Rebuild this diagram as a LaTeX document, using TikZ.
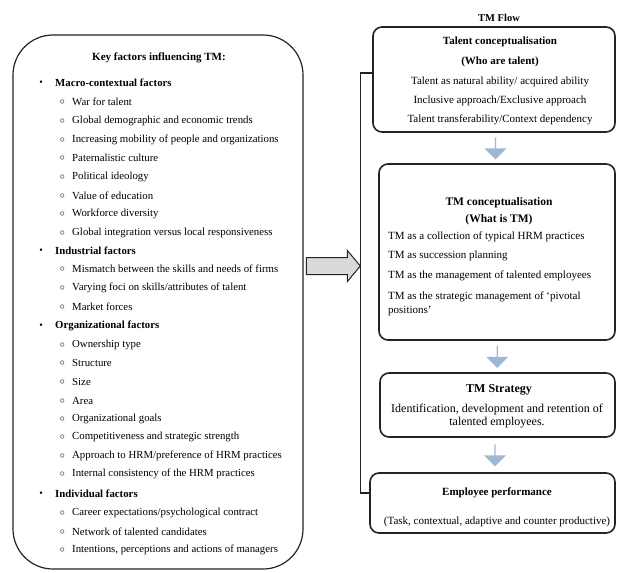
\documentclass[tikz,border=0pt]{standalone}
\usepackage{fontspec}
\setmainfont{Liberation Serif}
\usepackage{tikz}
\usetikzlibrary{shapes, shapes.arrows, positioning, arrows, calc}
\definecolor{arrowblue}{RGB}{158,183,217}
\definecolor{linegray}{RGB}{35,35,35}
\newcommand{\keyfont}{\fontsize{10.8}{12}\selectfont}
\newcommand{\flowfont}[1]{\fontsize{#1}{14}\selectfont}
\tikzset{%
    % Boxes of the two panels
    factorbox/.style = {draw=linegray, line width=1.2pt, rectangle,
    rounded corners=40pt, inner sep=0pt},
    flowbox/.style   = {draw=linegray, line width=1.6pt, rectangle,
    rounded corners=9pt, inner sep=0pt},
    % Block arrows
    bigarrow/.style  = {single arrow, draw=linegray, line width=1pt,
    fill=black!15, minimum height=54pt, text height=16pt, text depth=0pt,
    single arrow head extend=7pt, single arrow tip angle=100, inner sep=0pt},
    downarrow/.style = {single arrow, shape border rotate=270, fill=arrowblue,
    minimum height=22pt, minimum width=22pt, single arrow head extend=4pt,
    inner sep=0pt},
}

\begin{document}
\begin{tikzpicture}[x=1pt, y=-1pt]

	\tikzstyle{heading}=[anchor=west, inner sep=0pt, font=\keyfont\bfseries, label={[inner sep=0pt, xshift=-12pt]left:\textbullet}]
	\tikzstyle{factor}=[anchor=west, inner sep=0pt, font=\keyfont, label={[inner sep=0pt, xshift=-7pt]left:$\circ$}]
	\tikzstyle{flowtxt}=[inner sep=0pt]
	\tikzstyle{flowhead}=[inner sep=0pt, font=\bfseries]
	\tikzstyle{flowlist}=[anchor=west, inner sep=0pt, font=\flowfont{11}]

	\useasboundingbox (0,0) rectangle (617,572);

	% key factors
	\node[factorbox, minimum width=290pt, minimum height=534pt] (keybox) at (158,302) {};
	\node[font=\fontsize{11}{13}\selectfont\bfseries] (keytitle) at (159,58) {Key factors influencing TM:};
	\node[heading] (macro) at (55,83) {Macro-contextual factors};
	\node[factor] (m1) at (72,102) {War for talent};
	\node[factor] (m2) at (72,121) {Global demographic and economic trends};
	\node[factor] (m3) at (72,140) {Increasing mobility of people and organizations};
	\node[factor] (m4) at (72,158) {Paternalistic culture};
	\node[factor] (m5) at (72,177) {Political ideology};
	\node[factor] (m6) at (72,196) {Value of education};
	\node[factor] (m7) at (72,214) {Workforce diversity};
	\node[factor] (m8) at (72,233) {Global integration versus local responsiveness};
	\node[heading] (indus) at (55,251) {Industrial factors};
	\node[factor] (i1) at (72,269) {Mismatch between the skills and needs of firms};
	\node[factor] (i2) at (72,288) {Varying foci on skills/attributes of talent};
	\node[factor] (i3) at (72,307) {Market forces};
	\node[heading] (orga) at (55,326) {Organizational factors};
	\node[factor] (o1) at (72,345) {Ownership type};
	\node[factor] (o2) at (72,363) {Structure};
	\node[factor] (o3) at (72,382) {Size};
	\node[factor] (o4) at (72,401) {Area};
	\node[factor] (o5) at (72,419) {Organizational goals};
	\node[factor] (o6) at (72,437) {Competitiveness and strategic strength};
	\node[factor] (o7) at (72,456) {Approach to HRM/preference of HRM practices};
	\node[factor] (o8) at (72,474) {Internal consistency of the HRM practices};
	\node[heading] (indiv) at (55,494) {Individual factors};
	\node[factor] (p1) at (72,513) {Career expectations/psychological contract};
	\node[factor] (p2) at (72,532) {Network of talented candidates};
	\node[factor] (p3) at (72,550) {Intentions, perceptions and actions of managers};

	% TM flow
	\node[font=\fontsize{10.5}{12}\selectfont\bfseries] (flowtitle) at (499,18) {TM Flow};
	\node[flowbox, minimum width=242pt, minimum height=105pt] (b1) at (494,79.5) {};
	\node[flowhead, font=\flowfont{11}\bfseries] (b1t1) at (500,42) {Talent conceptualisation};
	\node[flowhead, font=\flowfont{11}\bfseries] (b1t2) at (500,62) {(Who are talent)};
	\node[flowtxt, font=\flowfont{11}] (b1t3) at (500,82) {Talent as natural ability/ acquired ability};
	\node[flowtxt, font=\flowfont{11}] (b1t4) at (500,101) {Inclusive approach/Exclusive approach};
	\node[flowtxt, font=\flowfont{11}] (b1t5) at (500,120) {Talent transferability/Context dependency};

	\node[flowbox, minimum width=236pt, minimum height=176pt] (b2) at (497,252) {};
	\node[flowhead, font=\flowfont{11.5}\bfseries] (b2t1) at (499,203) {TM conceptualisation};
	\node[flowhead, font=\flowfont{11.5}\bfseries] (b2t2) at (499,220) {(What is TM)};
	\node[flowlist] (b2t3) at (388,237) {TM as a collection of typical HRM practices};
	\node[flowlist] (b2t4) at (388,256) {TM as succession planning};
	\node[flowlist] (b2t5) at (388,276) {TM as the management of talented employees};
	\node[flowlist] (b2t6) at (388,297) {TM as the strategic management of `pivotal};
	\node[flowlist] (b2t7) at (388,311) {positions'};

	\node[flowbox, minimum width=235pt, minimum height=64pt] (b3) at (497.5,405) {};
	\node[flowhead, font=\flowfont{12}\bfseries] (b3t1) at (499,390) {TM Strategy};
	\node[flowtxt, font=\flowfont{12}] (b3t2) at (497,410) {Identification, development and retention of};
	\node[flowtxt, font=\flowfont{12}] (b3t3) at (497,423) {talented employees.};

	\node[flowbox, minimum width=245pt, minimum height=60pt] (b4) at (492.5,503) {};
	\node[flowhead, font=\flowfont{11}\bfseries] (b4t1) at (497,493) {Employee performance};
	\node[flowtxt, font=\flowfont{11}] (b4t2) at (497,522) {(Task, contextual, adaptive and counter productive)};

	% arrows
	\node[downarrow] (a1) at ($(b1.south)!0.5!(b2.north)$) {};
	\node[downarrow] (a2) at ($(b2.south)!0.5!(b3.north)$) {};
	\node[downarrow] (a3) at ($(b3.south)!0.5!(b4.north)$) {};
	\draw[line width=1.4pt, draw=linegray] ([yshift=6.5pt]b1.west) -- ++(-12,0) |- ([yshift=10pt]b4.west);
	\node[bigarrow, anchor=tip] (link) at (361,266) {};

\end{tikzpicture}
\end{document}
